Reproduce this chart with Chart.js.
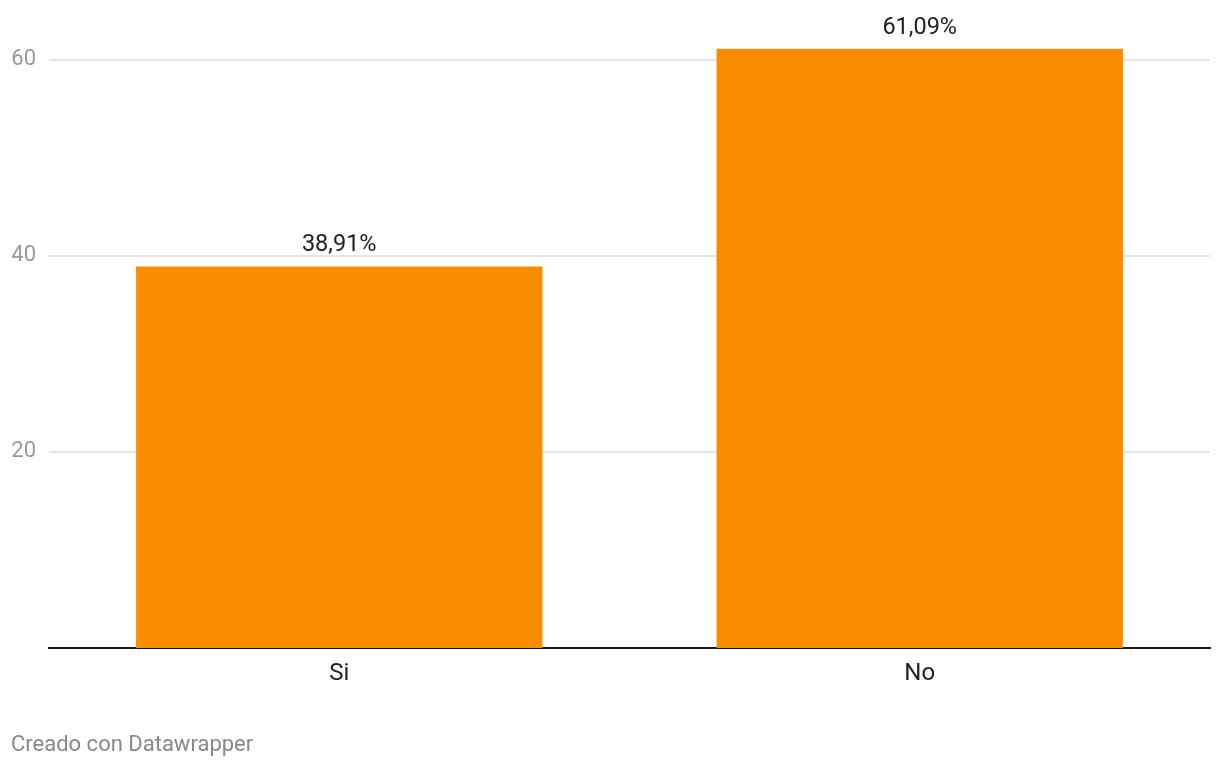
<!DOCTYPE html>
<html>
<head>
<meta charset="utf-8">
<script src="https://cdn.jsdelivr.net/npm/chart.js@4.4.1/dist/chart.umd.min.js"></script>
<style>
  html, body { margin: 0; padding: 0; background: #fff; }
  #wrap { position: absolute; left: 0; top: 0; width: 1220px; height: 768px; }
  #foot { position: absolute; left: 11px; top: 731px; font: 22px Roboto, sans-serif; color: #888; }
</style>
</head>
<body>
<div id="wrap"><canvas id="chart"></canvas></div>
<div id="foot">Creado con Datawrapper</div>
<script>
'use strict';

var categories = ['Si', 'No'];
var values = [38.91, 61.09];
var yTicks = [20, 40, 60];

// labels like 38,91% on top of each bar
var barLabels = {
  id: 'barLabels',
  afterDatasetsDraw: function(chart){
    var ctx = chart.ctx;
    var meta = chart.getDatasetMeta(0);
    ctx.save();
    ctx.font = '23.5px Roboto';
    ctx.fillStyle = '#222';
    ctx.textAlign = 'center';
    ctx.textBaseline = 'alphabetic';
    meta.data.forEach(function(bar, i){
      var txt = values[i].toFixed(2).replace('.', ',') + '%';
      ctx.fillText(txt, bar.x, bar.y - 15);
    });
    ctx.restore();
  }
};

var ctx = document.getElementById('chart').getContext('2d');
var chart = new Chart(ctx, {
  type: 'bar',
  data: {
    labels: categories,
    datasets: [{
      data: values,
      backgroundColor: '#fa8c00',
      barPercentage: 0.7,
      categoryPercentage: 1
    }]
  },
  options: {
    responsive: true,
    maintainAspectRatio: false,
    animation: false,
    layout: { padding: { top: 10, right: 10, bottom: 70, left: 0 } },
    plugins: { legend: { display: false }, tooltip: { enabled: false } },
    scales: {
      x: {
        grid: { display: false, drawTicks: false },
        border: { display: true, color: '#1a1a1a', width: 2 },
        ticks: { color: '#222', font: { family: 'Roboto', size: 24 }, padding: 12 },
        afterFit: function(s){ s.height = 50; }
      },
      y: {
        min: 0,
        max: 63.4,
        afterBuildTicks: function(s){
          s.ticks = yTicks.map(function(v){ return { value: v }; });
        },
        grid: { color: '#e5e5e5', lineWidth: 2, drawTicks: false },
        border: { display: false },
        ticks: { color: '#999', font: { family: 'Roboto', size: 22 }, padding: 13 },
        afterFit: function(s){ s.width = 49; }
      }
    }
  },
  plugins: [barLabels]
});
</script>
</body>
</html>
